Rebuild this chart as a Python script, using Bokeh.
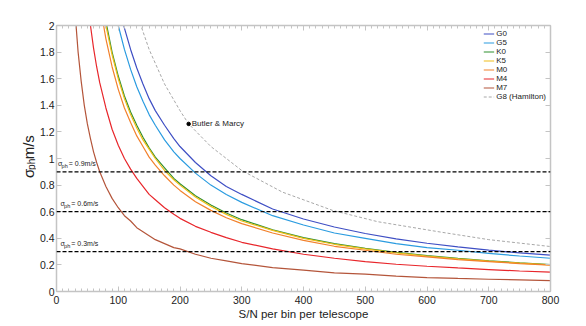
import math
from bokeh.plotting import figure
from bokeh.layouts import row
from bokeh.models import (Range1d, LinearAxis, FixedTicker, SingleIntervalTicker, Span,
                          Label, Legend, LegendItem, CustomJSTickFormatter)
from bokeh.embed import file_html
from bokeh.resources import INLINE

# ---------------- data ----------------
snr = [25, 30, 35, 40, 45, 50, 55, 60, 65, 70, 80, 90, 100, 110, 120, 130, 140, 150, 160,
       175, 190, 200, 225, 250, 275, 300, 350, 400, 450, 500, 550, 600, 650, 700, 750, 800]

sig_G0 = [8.72, 7.27, 6.23, 5.45, 4.84, 4.36, 3.96, 3.63, 3.35, 3.11, 2.73, 2.42, 2.18, 1.98,
          1.82, 1.68, 1.56, 1.45, 1.36, 1.25, 1.15, 1.09, 0.97, 0.87, 0.79, 0.73, 0.62, 0.545,
          0.485, 0.436, 0.396, 0.363, 0.335, 0.311, 0.29, 0.273]
sig_G5 = [8.00, 6.67, 5.71, 5.00, 4.44, 4.00, 3.64, 3.33, 3.08, 2.86, 2.50, 2.22, 2.00, 1.82,
          1.67, 1.54, 1.43, 1.33, 1.25, 1.14, 1.05, 1.00, 0.89, 0.80, 0.73, 0.67, 0.57, 0.50,
          0.44, 0.40, 0.36, 0.33, 0.31, 0.286, 0.267, 0.25]
sig_K0 = [6.48, 5.40, 4.63, 4.05, 3.60, 3.24, 2.95, 2.70, 2.49, 2.31, 2.03, 1.80, 1.62, 1.47,
          1.35, 1.25, 1.16, 1.08, 1.01, 0.93, 0.85, 0.81, 0.72, 0.65, 0.59, 0.54, 0.463, 0.405,
          0.36, 0.324, 0.295, 0.27, 0.25, 0.231, 0.216, 0.203]
sig_K5 = [6.40, 5.33, 4.57, 4.00, 3.56, 3.20, 2.91, 2.67, 2.46, 2.29, 2.00, 1.78, 1.60, 1.45,
          1.33, 1.23, 1.14, 1.07, 1.00, 0.91, 0.84, 0.80, 0.71, 0.64, 0.58, 0.53, 0.46, 0.40,
          0.355, 0.32, 0.29, 0.267, 0.246, 0.229, 0.213, 0.20]
sig_M0 = [6.08, 5.07, 4.34, 3.80, 3.38, 3.04, 2.76, 2.53, 2.34, 2.17, 1.90, 1.69, 1.52, 1.38,
          1.27, 1.17, 1.09, 1.01, 0.95, 0.87, 0.80, 0.76, 0.675, 0.61, 0.555, 0.51, 0.44, 0.385,
          0.34, 0.31, 0.28, 0.26, 0.24, 0.225, 0.21, 0.198]
sig_M4 = [4.40, 3.67, 3.14, 2.75, 2.44, 2.20, 2.00, 1.83, 1.69, 1.57, 1.38, 1.22, 1.10, 1.00,
          0.92, 0.85, 0.79, 0.73, 0.69, 0.63, 0.58, 0.55, 0.49, 0.445, 0.405, 0.37, 0.32, 0.28,
          0.25, 0.225, 0.205, 0.19, 0.177, 0.165, 0.154, 0.145]
sig_M7 = [2.52, 2.10, 1.80, 1.58, 1.40, 1.26, 1.15, 1.05, 0.97, 0.90, 0.79, 0.70, 0.63, 0.57,
          0.53, 0.48, 0.45, 0.42, 0.39, 0.36, 0.33, 0.32, 0.28, 0.25, 0.23, 0.21, 0.18, 0.16,
          0.14, 0.13, 0.115, 0.105, 0.098, 0.092, 0.087, 0.082]

snr_G8 = [130, 150, 175, 200, 214, 250, 300, 366, 447, 520, 623, 700, 800]
sig_G8 = [2.09, 1.82, 1.56, 1.36, 1.26, 1.09, 0.91, 0.747, 0.61, 0.525, 0.446, 0.39, 0.338]

series_names = ["G0", "G5", "K0", "K5", "M0", "M4", "M7"]
series_values = [sig_G0, sig_G5, sig_K0, sig_K5, sig_M0, sig_M4, sig_M7]
g8_name = "G8 (Hamilton)"

butler_x = [214]
butler_y = [1.26]
butler_label = "Butler & Marcy"

ref_levels = [0.9, 0.6, 0.3]
ref_texts = ["= 0.9m/s", "= 0.6m/s", "= 0.3m/s"]

y_ticks = [0, 0.2, 0.4, 0.6, 0.8, 1, 1.2, 1.4, 1.6, 1.8, 2]
y_tick_labels = ["0", "0.2", "0.4", "0.6", "0.8", "1", "1.2", "1.4", "1.6", "1.8", "2"]

x_label = "S/N per bin per telescope"
y_label_parts = ["σ", "ph", "m/s"]

# ---------------- styles ----------------
colors = ["#3f4fc4", "#2b9ce0", "#2f8f2f", "#f0be1a", "#f2812c", "#e8262b", "#b4553a"]
FONT = "Liberation Sans"
AXIS_GREY = "#c4c4c4"
TEXT = "#222222"

W_LEFT = 36
p = figure(width=586 - W_LEFT, height=326, x_range=Range1d(0, 800), y_range=Range1d(0, 2),
           output_backend="svg", toolbar_location=None,
           min_border_left=16, min_border_right=36, min_border_top=25, min_border_bottom=35)
p.xgrid.visible = False
p.ygrid.visible = False
p.outline_line_color = None


def style_axis(ax, labels):
    ax.axis_line_color = AXIS_GREY
    ax.axis_line_width = 1.5
    ax.major_tick_line_color = AXIS_GREY
    ax.minor_tick_line_color = AXIS_GREY
    ax.major_tick_in = 5
    ax.major_tick_out = 0
    ax.minor_tick_in = 3
    ax.minor_tick_out = 0
    ax.major_label_text_font = FONT
    ax.major_label_text_color = TEXT
    ax.major_label_text_font_size = "10.5px"
    ax.major_label_standoff = 4 if labels else 0
    if not labels:
        ax.formatter = CustomJSTickFormatter(code="return '';")


for ax in p.xaxis:
    ax.ticker = SingleIntervalTicker(interval=100, num_minor_ticks=10)
    style_axis(ax, True)
    ax.axis_label = x_label
    ax.axis_label_text_font = FONT
    ax.axis_label_text_font_size = "11.5px"
    ax.axis_label_text_font_style = "normal"
    ax.axis_label_text_color = TEXT
    ax.axis_label_standoff = 1
for ax in p.yaxis:
    ax.ticker = FixedTicker(ticks=y_ticks, minor_ticks=[])
    ax.formatter = CustomJSTickFormatter(code="return (Math.round(tick*10)/10).toString();")
    ax.major_label_overrides = dict(zip(y_ticks, y_tick_labels))
    style_axis(ax, True)
    ax.major_label_standoff = 2

top = LinearAxis(ticker=SingleIntervalTicker(interval=100, num_minor_ticks=10))
style_axis(top, False)
p.add_layout(top, "above")
right = LinearAxis(ticker=FixedTicker(ticks=y_ticks, minor_ticks=[]))
style_axis(right, False)
p.add_layout(right, "right")

# reference levels
for lvl in ref_levels:
    p.add_layout(Span(location=lvl, dimension="width", line_color="black",
                      line_dash="4 2", line_width=1.3))

# curves
items = []
for name, ys, col in zip(series_names, series_values, colors):
    r = p.line(snr, ys, line_color=col, line_width=1.2)
    items.append(LegendItem(label=name, renderers=[r]))
rg8 = p.line(snr_G8, sig_G8, line_color="#a8a8a8", line_width=1.0, line_dash="3 2")
items.append(LegendItem(label=g8_name, renderers=[rg8]))

p.scatter(butler_x, butler_y, size=3.5, color="black")
p.add_layout(Label(x=butler_x[0], y=butler_y[0], text=butler_label, x_offset=3,
                   text_baseline="middle", text_font=FONT, text_font_size="8px",
                   text_color=TEXT))

leg = Legend(items=items, location="top_right", margin=4, padding=0, spacing=0,
             glyph_width=11, glyph_height=9, label_height=9, label_standoff=2,
             label_text_font=FONT, label_text_font_size="8px", label_text_color=TEXT,
             background_fill_alpha=0, border_line_alpha=0)
p.add_layout(leg)

# reference level labels
x_offs = [1.5, 4, 4]
for lvl, txt, xo in zip(ref_levels, ref_texts, x_offs):
    p.add_layout(Label(x=0, y=lvl, text="σ", x_offset=xo, y_offset=5,
                       text_font=FONT, text_font_size="7px", text_color=TEXT))
    p.add_layout(Label(x=0, y=lvl, text="ph", x_offset=xo + 3.6, y_offset=3,
                       text_font=FONT, text_font_size="5.5px", text_color=TEXT))
    p.add_layout(Label(x=0, y=lvl, text=txt, x_offset=xo + 10.8, y_offset=5,
                       text_font=FONT, text_font_size="7px", text_color=TEXT))

# left strip carrying the rotated y-axis label (pixel coordinates, y up)
q = figure(width=W_LEFT, height=326, x_range=Range1d(0, W_LEFT), y_range=Range1d(0, 326),
           output_backend="svg", toolbar_location=None, min_border=0,
           x_axis_location=None, y_axis_location=None)
q.xgrid.visible = False
q.ygrid.visible = False
q.outline_line_color = None
q.add_layout(Label(x=27.5, y=139, text=y_label_parts[0], angle=math.pi / 2,
                   text_baseline="alphabetic",
                   text_font=FONT, text_font_size="15px", text_color=TEXT))
q.add_layout(Label(x=30.5, y=149, text=y_label_parts[1], angle=math.pi / 2,
                   text_baseline="alphabetic",
                   text_font=FONT, text_font_size="10px", text_color=TEXT))
q.add_layout(Label(x=27.5, y=162, text=y_label_parts[2], angle=math.pi / 2,
                   text_baseline="alphabetic",
                   text_font=FONT, text_font_size="15px", text_color=TEXT))

layout = row(q, p)
open("out.html", "w").write(file_html(layout, INLINE))
